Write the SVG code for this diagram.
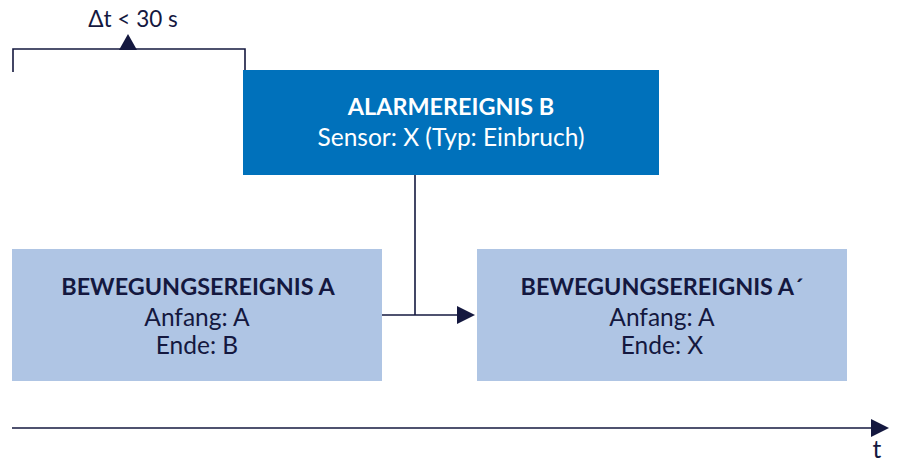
<svg xmlns="http://www.w3.org/2000/svg" width="897" height="462" viewBox="0 0 897 462">
<style>
.t{font-family:Lato,"Open Sans","Liberation Sans",sans-serif;text-anchor:middle;font-size:24.5px;fill:#14183f}
.b{font-weight:bold;font-size:23.4px}
.w{fill:#ffffff}
.ln{stroke:#14183f;stroke-width:1.6;fill:none}
.light{fill:#afc5e4}
</style>
<rect width="897" height="462" fill="#ffffff"/>
<g id="bracket">
<path class="ln" d="M13,72 V49 H245 V70"/>
<path d="M119,50 L128,34 L137,50 z" fill="#14183f"/>
<text class="t" x="133" y="27" style="font-size:22.5px">Δt &lt; 30 s</text>
</g>
<g id="alarm">
<rect x="243" y="70" width="416" height="105" fill="#0071bb"/>
<text class="t b w" x="451" y="115">ALARMEREIGNIS B</text>
<text class="t w" x="451" y="146">Sensor: X (Typ: Einbruch)</text>
</g>
<g id="eventA">
<rect class="light" x="12" y="249" width="370" height="132"/>
<text class="t b" x="198" y="295">BEWEGUNGSEREIGNIS A</text>
<text class="t" x="197" y="326">Anfang: A</text>
<text class="t" x="197" y="354">Ende: B</text>
</g>
<g id="eventA2">
<rect class="light" x="477" y="249" width="370" height="132"/>
<text class="t b" x="662" y="295">BEWEGUNGSEREIGNIS A´</text>
<text class="t" x="662" y="326">Anfang: A</text>
<text class="t" x="662" y="354">Ende: X</text>
</g>
<g id="connectors">
<path class="ln" d="M415,175 V315"/>
<path class="ln" d="M382,315 H458"/>
<path d="M457,306 L475,315 L457,324 z" fill="#14183f"/>
<path class="ln" d="M12,428 H873"/>
<path d="M871,419 L889,428 L871,437 z" fill="#14183f"/>
<text class="t" x="877" y="458">t</text>
</g>
</svg>
